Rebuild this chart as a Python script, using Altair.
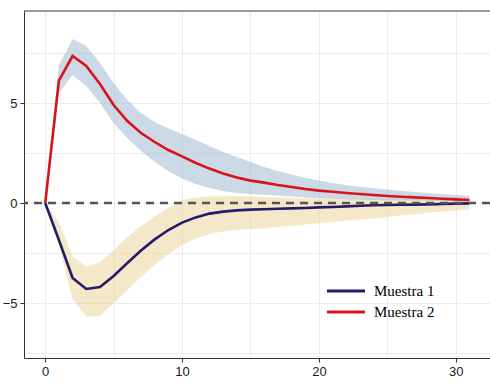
import altair as alt
import pandas as pd

horizon = list(range(32))

# Muestra 1 (navy line, tan band)
m1 = [0, -1.85, -3.75, -4.3, -4.2, -3.65, -3.0, -2.38, -1.82, -1.35, -0.98, -0.72,
      -0.53, -0.43, -0.37, -0.33, -0.31, -0.29, -0.27, -0.25, -0.22, -0.2, -0.17,
      -0.14, -0.11, -0.1, -0.09, -0.08, -0.07, -0.05, -0.03, -0.02]
m1_hi = [0, -0.95, -2.68, -3.18, -2.98, -2.35, -1.7, -1.15, -0.68, -0.25, 0.15, 0.27,
         0.32, 0.34, 0.35, 0.34, 0.3, 0.27, 0.25, 0.24, 0.23, 0.22, 0.22, 0.21,
         0.21, 0.21, 0.2, 0.2, 0.2, 0.2, 0.2, 0.2]
m1_lo = [0, -2.1, -4.8, -5.68, -5.65, -5.0, -4.35, -3.7, -3.1, -2.55, -2.1, -1.78,
         -1.55, -1.42, -1.35, -1.3, -1.27, -1.2, -1.14, -1.07, -1.0, -0.94, -0.88,
         -0.82, -0.77, -0.7, -0.63, -0.56, -0.49, -0.43, -0.37, -0.32]

# Muestra 2 (red line, blue band)
m2 = [0, 6.12, 7.35, 6.85, 5.95, 4.9, 4.1, 3.5, 3.05, 2.65, 2.33, 2.0, 1.72, 1.48,
      1.28, 1.12, 1.02, 0.9, 0.8, 0.7, 0.62, 0.56, 0.5, 0.45, 0.4, 0.35, 0.31,
      0.28, 0.25, 0.21, 0.18, 0.15]
m2_hi = [0, 6.9, 8.2, 7.85, 7.0, 6.0, 5.15, 4.5, 4.05, 3.72, 3.45, 3.15, 2.85, 2.55,
         2.3, 2.05, 1.8, 1.6, 1.42, 1.26, 1.12, 1.0, 0.9, 0.81, 0.74, 0.67, 0.61,
         0.55, 0.5, 0.45, 0.4, 0.36]
m2_lo = [0, 5.5, 6.4, 5.85, 5.0, 4.0, 3.25, 2.6, 2.05, 1.6, 1.22, 0.95, 0.75, 0.6,
         0.5, 0.45, 0.41, 0.37, 0.33, 0.28, 0.24, 0.21, 0.19, 0.17, 0.15, 0.14,
         0.13, 0.12, 0.11, 0.1, 0.09, 0.08]

series = ["Muestra 1", "Muestra 2"]
line_colors = ["#241c6b", "#d7141a"]
band_colors = ["#ecd59b", "#a3b9d4"]

rows = []
for name, v, lo, hi in [("Muestra 1", m1, m1_lo, m1_hi), ("Muestra 2", m2, m2_lo, m2_hi)]:
    for i, h in enumerate(horizon):
        rows.append({"h": h, "serie": name, "v": v[i], "lo": lo[i], "hi": hi[i]})
df = pd.DataFrame(rows)
zero_df = pd.DataFrame({"z": [0]})

xs = alt.Scale(domain=[-1.55, 32.5], nice=False, zero=False)
ys = alt.Scale(domain=[-7.75, 9.6], nice=False, zero=False)

x_axis = alt.Axis(
    values=[0, 5, 10, 15, 20, 25, 30],
    labelExpr="datum.value % 10 === 0 ? datum.label : ''",
    tickOpacity={"condition": {"test": "datum.value % 10 === 0", "value": 1}, "value": 0},
    title=None, grid=True,
)
y_axis = alt.Axis(
    values=[-7.5, -5, -2.5, 0, 2.5, 5, 7.5],
    labelExpr="datum.value % 5 === 0 ? datum.label : ''",
    tickOpacity={"condition": {"test": "datum.value % 5 === 0", "value": 1}, "value": 0},
    title=None, grid=True,
)

X = alt.X("h:Q", scale=xs, axis=x_axis)

bands = []
for name, col in zip(series, band_colors):
    bands.append(
        alt.Chart(df).transform_filter(alt.datum.serie == name)
        .mark_area(color=col, opacity=0.55)
        .encode(x=X, y=alt.Y("lo:Q", scale=ys, axis=y_axis), y2="hi:Q")
    )

lines = alt.Chart(df).mark_line(strokeWidth=2.6).encode(
    x=X,
    y=alt.Y("v:Q", scale=ys, axis=y_axis),
    color=alt.Color(
        "serie:N",
        scale=alt.Scale(domain=series, range=line_colors),
        legend=alt.Legend(
            title=None, orient="none", legendX=311, legendY=269,
            symbolType="M-2,0H2", symbolSize=361, symbolStrokeWidth=3,
            labelFont="Liberation Serif", labelFontSize=15, labelColor="#000000",
            labelOffset=17, rowPadding=2, padding=0,
        ),
    ),
)

zero_line = alt.Chart(zero_df).mark_rule(
    color="#555555", strokeWidth=2.5, strokeDash=[8, 6]
).encode(y=alt.Y("z:Q", scale=ys, axis=y_axis))

top_border = alt.Chart(zero_df).mark_rule(color="#333333", strokeWidth=1).encode(
    y=alt.value(0)
)

chart = alt.layer(*bands, lines, zero_line, top_border).properties(
    width=466, height=347,
    autosize=alt.AutoSizeParams(type="none"),
    padding={"left": 24, "top": 11, "right": 0, "bottom": 32},
).configure_view(stroke=None).configure_axis(
    gridColor="#ebebeb", gridWidth=1, domainColor="#333333", domainWidth=1,
    tickColor="#333333", tickSize=4, labelFont="Liberation Sans", labelFontSize=13,
    labelColor="#1a1a1a", labelPadding=3,
)

chart.save("out.html", embed_options={"renderer": "svg", "actions": False})
